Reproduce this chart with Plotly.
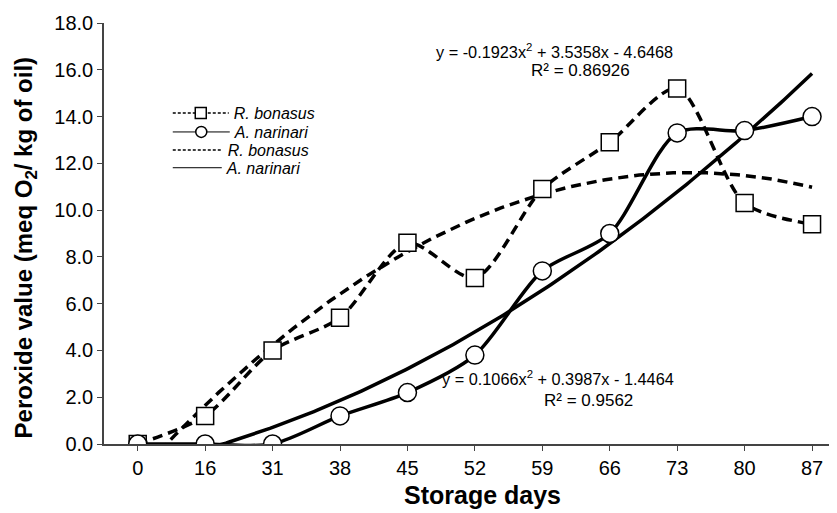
import numpy as np
import plotly.graph_objects as go

days = ["0", "16", "31", "38", "45", "52", "59", "66", "73", "80", "87"]
bonasus = [0.0, 1.2, 4.0, 5.4, 8.6, 7.1, 10.9, 12.9, 15.2, 10.3, 9.4]
narinari = [0.0, 0.0, 0.0, 1.2, 2.2, 3.8, 7.4, 9.0, 13.3, 13.4, 14.0]
# polynomial trendline coefficients shown on the chart (x = 1..11)
fit_bonasus = [-0.1923, 3.5358, -4.6468]
fit_narinari = [0.1066, 0.3987, -1.4464]

pos = list(range(len(days)))
xs = np.linspace(0, len(days) - 1, 200)
tb = np.polyval(fit_bonasus, xs + 1)
tn = np.polyval(fit_narinari, xs + 1)

FONT = "Liberation Sans, Arial, sans-serif"
fig = go.Figure()

# trendlines
fig.add_trace(go.Scatter(x=xs, y=tb, mode="lines", showlegend=False,
                         line=dict(color="black", width=3.5, dash="10px,6px")))
fig.add_trace(go.Scatter(x=xs, y=tn, mode="lines", showlegend=False,
                         line=dict(color="black", width=3.5)))
# data
fig.add_trace(go.Scatter(x=pos, y=bonasus, mode="lines+markers", showlegend=False,
                         line=dict(color="black", width=3.5, dash="10px,6px", shape="spline", smoothing=0.8),
                         marker=dict(symbol="square", size=17, color="white",
                                     line=dict(color="black", width=1.5))))
fig.add_trace(go.Scatter(x=pos, y=narinari, mode="lines+markers", showlegend=False,
                         line=dict(color="black", width=3.5, shape="spline", smoothing=0.8),
                         marker=dict(symbol="circle", size=18, color="white",
                                     line=dict(color="black", width=1.5))))

# legend-only entries (one legend per row to control spacing)
fig.add_trace(go.Scatter(x=[None], y=[None], mode="lines+markers", name="R. bonasus", legend="legend",
                         line=dict(color="black", width=1.5, dash="3px,2px"),
                         marker=dict(symbol="square", size=11, color="white",
                                     line=dict(color="black", width=1.5))))
fig.add_trace(go.Scatter(x=[None], y=[None], mode="lines+markers", name="A. narinari", legend="legend2",
                         line=dict(color="black", width=1),
                         marker=dict(symbol="circle", size=11, color="white",
                                     line=dict(color="black", width=1.5))))
fig.add_trace(go.Scatter(x=[None], y=[None], mode="lines", name="R. bonasus", legend="legend3",
                         line=dict(color="black", width=1.5, dash="3px,2px")))
fig.add_trace(go.Scatter(x=[None], y=[None], mode="lines", name="A. narinari", legend="legend4",
                         line=dict(color="black", width=1)))

EQF = dict(size=16.3, family=FONT, color="black")
RQF = dict(size=17, family=FONT, color="black")
fig.add_annotation(x=6.18, y=16.8, text="y = -0.1923x<sup>2</sup> + 3.5358x - 4.6468",
                   showarrow=False, font=EQF)
fig.add_annotation(x=6.56, y=15.95, text="R² = 0.86926", showarrow=False, font=RQF)
fig.add_annotation(x=6.23, y=2.82, text="y = 0.1066x<sup>2</sup> + 0.3987x - 1.4464",
                   showarrow=False, font=EQF)
fig.add_annotation(x=6.69, y=1.88, text="R² = 0.9562", showarrow=False, font=RQF)

# axis titles as annotations
fig.add_annotation(xref="paper", yref="paper", x=-0.107, y=0.466, textangle=-90,
                   xanchor="center", yanchor="middle",
                   text="<b>Peroxide value (meq O<sub>2</sub>/ kg of oil)</b>",
                   showarrow=False, font=dict(size=24, family=FONT, color="black"))
fig.add_annotation(xref="paper", yref="paper", x=0.517, y=-0.121,
                   xanchor="center", yanchor="middle",
                   text="<b>Storage days</b>",
                   showarrow=False, font=dict(size=25, family=FONT, color="black"))

LEGF = dict(size=16, family=FONT, style="italic", color="black")
def leg(y, w):
    return dict(x=0.087, y=y, xanchor="left", yanchor="middle", font=LEGF,
                bgcolor="rgba(0,0,0,0)", itemwidth=w, tracegroupgap=0)

# the page body adds an 8px offset; compensate via figure size/margins
fig.update_layout(
    width=829, height=505,
    margin=dict(l=96, r=0, t=15, b=69),
    plot_bgcolor="white", paper_bgcolor="white",
    font=dict(family=FONT, color="black"),
    legend=leg(0.786, 56), legend2=leg(0.741, 57),
    legend3=leg(0.698, 50), legend4=leg(0.656, 49),
    xaxis=dict(range=[-0.5, 10.37], tickvals=pos, ticktext=days, automargin=False,
               showline=True, linecolor="#444", linewidth=1.5, ticks="outside",
               ticklen=5, tickcolor="#444", showgrid=False, zeroline=False,
               tickfont=dict(size=20, family=FONT)),
    yaxis=dict(range=[0, 18], tickvals=list(range(0, 19, 2)), tickformat=".1f", automargin=False,
               showline=True, linecolor="#444", linewidth=1.5, ticks="outside",
               ticklen=5, tickcolor="#444", showgrid=False, zeroline=False,
               tickfont=dict(size=20, family=FONT)),
)

fig.write_html("out.html")
